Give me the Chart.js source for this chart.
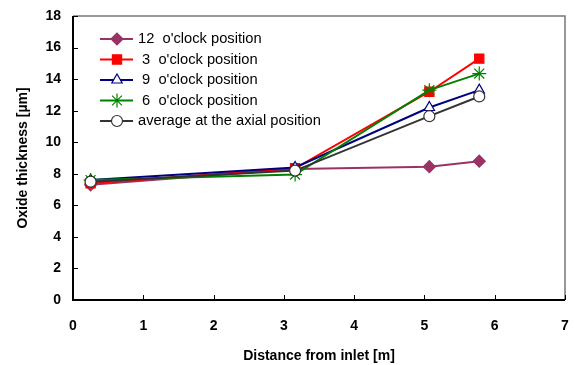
<!DOCTYPE html>
<html lang="en">
  <head>
    <meta charset="UTF-8" />
    <title>Oxide thickness</title>
    <script src="https://cdn.jsdelivr.net/npm/chart.js@4"></script>
    <style>
      body { margin: 0; background: #fff; }
      #wrap { width: 574px; height: 365px; }
    </style>
  </head>
  <body>
    <div id="wrap"><canvas id="oxideChart"></canvas></div>
  </body>
  <script>
    // distance from inlet [m]
    const distances = [0.25, 3.16, 5.07, 5.78];
    const pos12 = [7.3, 8.3, 8.45, 8.8];
    const pos3 = [7.4, 8.35, 13.2, 15.3];
    const pos9 = [7.6, 8.4, 12.2, 13.3];
    const pos6 = [7.6, 7.95, 13.3, 14.35];
    const average = [7.5, 8.2, 11.65, 12.9];
    const xTicks = [0, 1, 2, 3, 4, 5, 6, 7];
    const yTicks = [0, 2, 4, 6, 8, 10, 12, 14, 16, 18];

    const toPoints = (ys) => ys.map((y, i) => ({x: distances[i], y: y}));
    const font = "'Liberation Sans', Arial, sans-serif";

    // frame, inward ticks and the legend inside the plot
    const extras = {
      id: "extras",
      afterDraw(chart) {
        const ctx = chart.ctx;
        const a = chart.chartArea;
        const xs = chart.scales.x, ys = chart.scales.y;
        ctx.save();
        ctx.strokeStyle = "#777";
        ctx.lineWidth = 1.5;
        ctx.beginPath();
        ctx.moveTo(a.left, a.top);
        ctx.lineTo(a.right, a.top);
        ctx.lineTo(a.right, a.bottom);
        ctx.stroke();
        ctx.strokeStyle = "#000";
        ctx.lineWidth = 2;
        ctx.beginPath();
        ctx.moveTo(a.left, a.top);
        ctx.lineTo(a.left, a.bottom);
        ctx.lineTo(a.right, a.bottom);
        ctx.stroke();
        ctx.lineWidth = 1;
        ctx.beginPath();
        xTicks.forEach((t) => {
          const px = Math.round(xs.getPixelForValue(t)) + 0.5;
          ctx.moveTo(px, a.bottom);
          ctx.lineTo(px, a.bottom - 5);
        });
        yTicks.forEach((t) => {
          const py = Math.round(ys.getPixelForValue(t)) + 0.5;
          ctx.moveTo(a.left, py);
          ctx.lineTo(a.left + 5, py);
        });
        ctx.stroke();

        // legend
        ctx.font = "14.7px " + font;
        ctx.textBaseline = "middle";
        chart.data.datasets.forEach((ds, i) => {
          const y = 39 + i * 20.5;
          ctx.strokeStyle = ds.borderColor;
          ctx.lineWidth = 2;
          ctx.beginPath();
          ctx.moveTo(100, y);
          ctx.lineTo(133, y);
          ctx.stroke();
          ctx.fillStyle = ds.pointBackgroundColor;
          ctx.strokeStyle = ds.borderColor;
          ctx.lineWidth = ds.pointBorderWidth;
          Chart.helpers.drawPoint(ctx, {
            pointStyle: ds.pointStyle,
            radius: ds.pointRadius,
            borderWidth: ds.pointBorderWidth,
            rotation: 0,
          }, 117, y);
          ctx.fillStyle = "#000";
          ctx.fillText(ds.label, 138, y);
        });
        ctx.restore();
      },
    };

    const ctx = document.getElementById("oxideChart").getContext("2d");
    const oxideChart = new Chart(ctx, {
      type: "scatter",
      data: {
        datasets: [
          {
            label: "12  o'clock position",
            data: toPoints(pos12),
            borderColor: "#993366",
            backgroundColor: "#993366",
            pointBackgroundColor: "#993366",
            pointStyle: "rectRot",
            pointRadius: 6,
            order: 5,
          },
          {
            label: " 3  o'clock position",
            data: toPoints(pos3),
            borderColor: "#ff0000",
            backgroundColor: "#ff0000",
            pointBackgroundColor: "#ff0000",
            pointStyle: "rect",
            pointRadius: 6.5,
            order: 4,
          },
          {
            label: " 9  o'clock position",
            data: toPoints(pos9),
            borderColor: "#000080",
            backgroundColor: "#ffffff",
            pointBackgroundColor: "#ffffff",
            pointStyle: "triangle",
            pointRadius: 6,
            order: 3,
          },
          {
            label: " 6  o'clock position",
            data: toPoints(pos6),
            borderColor: "#008000",
            backgroundColor: "#008000",
            pointBackgroundColor: "#008000",
            pointStyle: "star",
            pointRadius: 7,
            order: 2,
          },
          {
            label: "average at the axial position",
            data: toPoints(average),
            borderColor: "#333333",
            backgroundColor: "#ffffff",
            pointBackgroundColor: "#ffffff",
            pointStyle: "circle",
            pointRadius: 5.5,
            order: 1,
          },
        ].map((d) => Object.assign({showLine: true, borderWidth: 2, pointBorderWidth: 1.2}, d)),
      },
      options: {
        responsive: true,
        maintainAspectRatio: false,
        animation: false,
        layout: {padding: {top: 16, right: 9, left: 0, bottom: 0}},
        plugins: {
          legend: {display: false},
          tooltip: {enabled: false},
        },
        scales: {
          x: {
            type: "linear",
            min: 0,
            max: 7,
            afterBuildTicks: (s) => { s.ticks = xTicks.map((v) => ({value: v})); },
            afterFit: (s) => { s.height = 65; s.paddingLeft = 0; s.paddingRight = 0; },
            grid: {display: false},
            border: {display: false},
            ticks: {padding: 10, maxRotation: 0, color: "#000", font: {family: font, size: 14, weight: "bold"}},
            title: {display: true, text: "Distance from inlet [m]", color: "#000", padding: {top: 4, bottom: 0}, font: {family: font, size: 14, weight: "bold"}},
          },
          y: {
            type: "linear",
            min: 0,
            max: 18,
            afterBuildTicks: (s) => { s.ticks = yTicks.map((v) => ({value: v})); },
            afterFit: (s) => { s.width = 73; s.paddingTop = 0; s.paddingBottom = 0; },
            grid: {display: false},
            border: {display: false},
            ticks: {padding: 4, color: "#000", font: {family: font, size: 14, weight: "bold"}},
            title: {display: true, text: "Oxide thickness [\u00b5m]", color: "#000", padding: {bottom: 0, top: 15}, font: {family: font, size: 14, weight: "bold"}},
          },
        },
      },
      plugins: [extras],
    });
  </script>
</html>
